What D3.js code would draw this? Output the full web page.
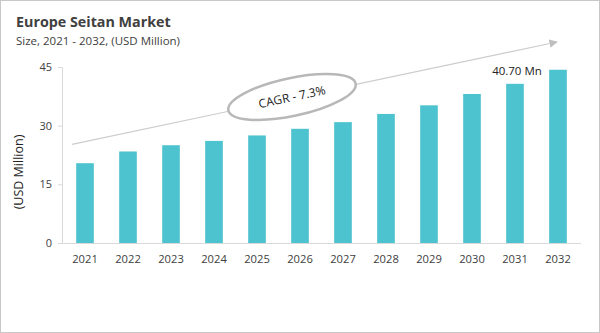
<!DOCTYPE html>
<html><head><meta charset="utf-8">
<script src="https://cdn.jsdelivr.net/npm/d3@7"></script>
<style>html,body{margin:0;padding:0;background:#fff;}svg{display:block;}</style>
</head><body>
<script>
const years = ["2021","2022","2023","2024","2025","2026","2027","2028","2029","2030","2031","2032"];
const values = [20.4, 23.4, 25.0, 26.1, 27.5, 29.2, 30.9, 33.0, 35.2, 38.1, 40.7, 44.3];
const yTicks = [0, 15, 30, 45];
const title = "Europe Seitan Market";
const subtitle = "Size, 2021 - 2032, (USD Million)";
const yLabel = "(USD Million)";
const cagrText = "CAGR - 7.3%";
const calloutText = "40.70 Mn";

const W = 600, H = 333;
const m = {left: 62, right: 19, top: 67, bottom: 90};
const font = "'Open Sans', sans-serif";
const textColor = "#404040";

const svg = d3.select("body").append("svg").attr("width", W).attr("height", H);
svg.append("rect").attr("x",0.5).attr("y",0.5).attr("width",W-1).attr("height",H-1)
  .attr("fill","#fff").attr("stroke","#c8c8c8").attr("stroke-width",1);

const x = d3.scaleBand().domain(years).range([m.left, W - m.right]).paddingInner(0.59).paddingOuter(0.33);
const y = d3.scaleLinear().domain([0, 45]).range([H - m.bottom, m.top]);

svg.append("text").attr("x",16).attr("y",27).text(title)
  .attr("font-family",font).attr("font-weight","bold").attr("font-size",14.3).attr("fill",textColor);
svg.append("text").attr("x",16).attr("y",45).text(subtitle)
  .attr("font-family",font).attr("font-size",11.5).attr("fill",textColor);

// y axis
const yAxis = svg.append("g").attr("transform",`translate(${m.left},0)`)
  .call(d3.axisLeft(y).tickValues(yTicks).tickSize(4).tickPadding(6));
yAxis.select(".domain").attr("stroke","#d9d9d9");
yAxis.selectAll(".tick line").attr("stroke","#d9d9d9");
yAxis.selectAll(".tick text").attr("font-family",font).attr("font-size",11).attr("fill",textColor);

// x axis
const xAxis = svg.append("g").attr("transform",`translate(0,${y(0)})`)
  .call(d3.axisBottom(x).tickSize(0).tickPadding(12));
xAxis.select(".domain").attr("stroke","#d9d9d9").attr("d",`M${m.left},0.5H${W-m.right}`);
xAxis.selectAll(".tick text").attr("font-family",font).attr("font-size",11.2).attr("fill",textColor);

// bars
svg.append("g").selectAll("rect").data(values).join("rect")
  .attr("x",(d,i)=>x(years[i])).attr("width",x.bandwidth())
  .attr("y",d=>y(d)).attr("height",d=>y(0)-y(d)).attr("fill","#4dc3cf");

// y label
svg.append("text").attr("transform",`translate(23,${(y(0)+y(45))/2+17}) rotate(-90)`)
  .attr("text-anchor","middle").text(yLabel)
  .attr("font-family",font).attr("font-size",12.5).attr("fill","#222");

// arrow
const defs = svg.append("defs");
defs.append("marker").attr("id","ah").attr("viewBox","0 0 10 10").attr("refX",9).attr("refY",5)
  .attr("markerWidth",7).attr("markerHeight",7).attr("orient","auto-start-reverse")
  .append("path").attr("d","M0,0L10,5L0,10z").attr("fill","#bfbfbf");
svg.append("line").attr("x1",72).attr("y1",144.3).attr("x2",557).attr("y2",42)
  .attr("stroke","#cccccc").attr("stroke-width",1.2).attr("marker-end","url(#ah)");

// ellipse
const ang = Math.atan2(42-144.3, 557-72) * 180/Math.PI;
const eg = svg.append("g").attr("transform",`translate(292,97) rotate(${ang})`);
eg.append("ellipse").attr("rx",65).attr("ry",19).attr("fill","#fff").attr("stroke","#b8b8b8").attr("stroke-width",2.5);
eg.append("text").attr("text-anchor","middle").attr("dy","0.35em").text(cagrText)
  .attr("font-family",font).attr("font-size",12).attr("fill","#222");

// callout
svg.append("text").attr("x",x("2031")+x.bandwidth()/2+2).attr("y",y(values[10])-9)
  .attr("text-anchor","middle").text(calloutText)
  .attr("font-family",font).attr("font-size",11.5).attr("fill","#222");
</script>
</body></html>
